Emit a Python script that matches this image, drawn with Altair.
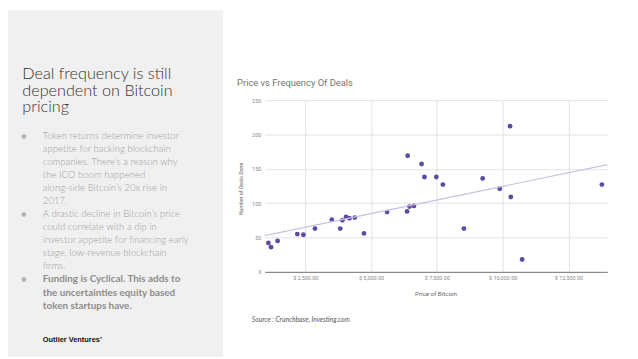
import altair as alt
import pandas as pd

# ---- data ----
price = [1100, 1200, 1450, 2200, 2430, 2870, 3510, 3830, 3910, 4050, 4180, 4380,
         4730, 5610, 6370, 6460, 6630, 6390, 6920, 7030, 7480, 7730, 9240, 9890,
         10310, 10280, 13770, 8530, 10740]
deals = [42, 36, 45, 55, 54, 63, 76, 63, 75, 80, 78, 79,
         56, 87, 88, 95, 96, 169, 157, 138, 138, 127, 136, 121,
         109, 212, 127, 63, 18]

x_ticks = [2500, 5000, 7500, 10000, 12500]
y_ticks = [0, 50, 100, 150, 200, 250]
x_domain = [960, 13975]
y_domain = [0, 250]

chart_title = "Price vs Frequency Of Deals"
x_title = "Price of Bitcoin"
y_title = "Number of Deals Done"
source_note = "Source : Crunchbase, Investing.com"
heading_lines = ["Deal frequency is still", "dependent on Bitcoin", "pricing"]
bullet_lines = [
    "Token returns determine investor",
    "appetite for backing blockchain",
    "companies. There\u2019s a reason why",
    "the ICO boom happened",
    "along-side Bitcoin\u2019s 20x rise in",
    "2017.",
    "A drastic decline in Bitcoin\u2019s price",
    "could correlate with a dip in",
    "investor appetite for financing early",
    "stage, low-revenue blockchain",
    "firms.",
    "Funding is Cyclical. This adds to",
    "the uncertainties equity based",
    "token startups have.",
]
bullet_starts = [0, 6, 11]
bold_from = 11
brand = "Outlier Ventures\u2019"

# ---- layout (reference page coords -> plot-relative coords) ----
OX, OY = 268, 99          # plot origin on the page
W, H = 347, 174


def rx(v):
    return v - OX


def ry(v):
    return v - OY


one = pd.DataFrame({"k": [0]})


def label(text, x, y, **kw):
    return alt.Chart(one).mark_text(text=text, **kw).encode(
        x=alt.value(x), y=alt.value(y))


layers = []

# left grey panel
layers.append(alt.Chart(one).mark_rect(color="#f0f0f0").encode(
    x=alt.value(-260), x2=alt.value(rx(226)), y=alt.value(-91), y2=alt.value(260)))

df = pd.DataFrame({"price": price, "deals": deals})
xs = alt.Scale(domain=x_domain, nice=False, zero=False)
ys = alt.Scale(domain=y_domain, nice=False)

x_axis = alt.Axis(
    values=x_ticks, labelExpr="'$ ' + format(datum.value, ',.2f')",
    grid=True, gridColor="#e3e3e3", domainColor="#777777", domainWidth=1,
    ticks=False, labelFont="Roboto", labelFontSize=5.5, labelColor="#8a8a8a",
    labelPadding=4, title=None)
y_axis = alt.Axis(
    values=y_ticks, tickCount=6, grid=True, gridColor="#e3e3e3", domain=False,
    ticks=False, labelFont="Roboto", labelFontSize=5.5, labelColor="#8a8a8a",
    labelPadding=4, labelOverlap=False, title=None)

points = alt.Chart(df).mark_circle(size=24, color="#5e4a9f", opacity=1).encode(
    x=alt.X("price:Q", scale=xs, axis=x_axis),
    y=alt.Y("deals:Q", scale=ys, axis=y_axis),
)

trend = alt.Chart(df).transform_regression(
    "price", "deals", extent=x_domain
).mark_line(color="#c8c0e0", strokeWidth=1.2).encode(
    x=alt.X("price:Q", scale=xs, axis=x_axis),
    y=alt.Y("deals:Q", scale=ys, axis=y_axis))

layers += [points, trend]

# chart texts
layers.append(label(chart_title, rx(240), ry(82), align="left", baseline="middle",
                    font="Roboto", fontSize=9.5, color="#757575"))
layers.append(label(x_title, rx(441.5), ry(295), align="center", baseline="middle",
                    font="Roboto", fontSize=6.3, color="#666666"))
layers.append(label(y_title, rx(244), ry(189), align="center", baseline="middle",
                    angle=270, font="Roboto", fontSize=5.3, color="#666666"))
layers.append(label(source_note, rx(255), ry(322), align="left", baseline="middle",
                    font="Lato", fontSize=6.8, fontStyle="italic", color="#555555"))

# left text
for i, line in enumerate(heading_lines):
    layers.append(label(line, rx(22.5), ry(78 + 16.5 * i), align="left",
                        baseline="alphabetic", font="Lato", fontSize=16.4,
                        fontWeight=300, color="#333333"))

for i, line in enumerate(bullet_lines):
    y = ry(135 + 13.25 * i)
    bold = i >= bold_from
    layers.append(label(line, rx(43.3), y, align="left", baseline="middle",
                        font="Lato", fontSize=10 if bold else 9.7,
                        fontWeight="bold" if bold else 300,
                        color="#8c8c8c" if bold else "#a0a0a0"))
    if i in bullet_starts:
        layers.append(label("\u25cf", rx(24), y, align="center", baseline="middle",
                            font="DejaVu Sans", fontSize=6, color="#b0b0b0"))

layers.append(label(brand, rx(43.3), ry(342.3), align="left", baseline="middle",
                    font="Liberation Sans", fontSize=7.5, fontWeight="bold",
                    color="#111111"))

chart = alt.layer(*layers).properties(
    width=W, height=H,
    padding={"left": 260, "top": 91, "right": 23, "bottom": 86},
    autosize=alt.AutoSizeParams(type="none"),
    background="white",
).configure_view(stroke=None)

chart.save("out.html", embed_options={"renderer": "svg", "actions": False})
